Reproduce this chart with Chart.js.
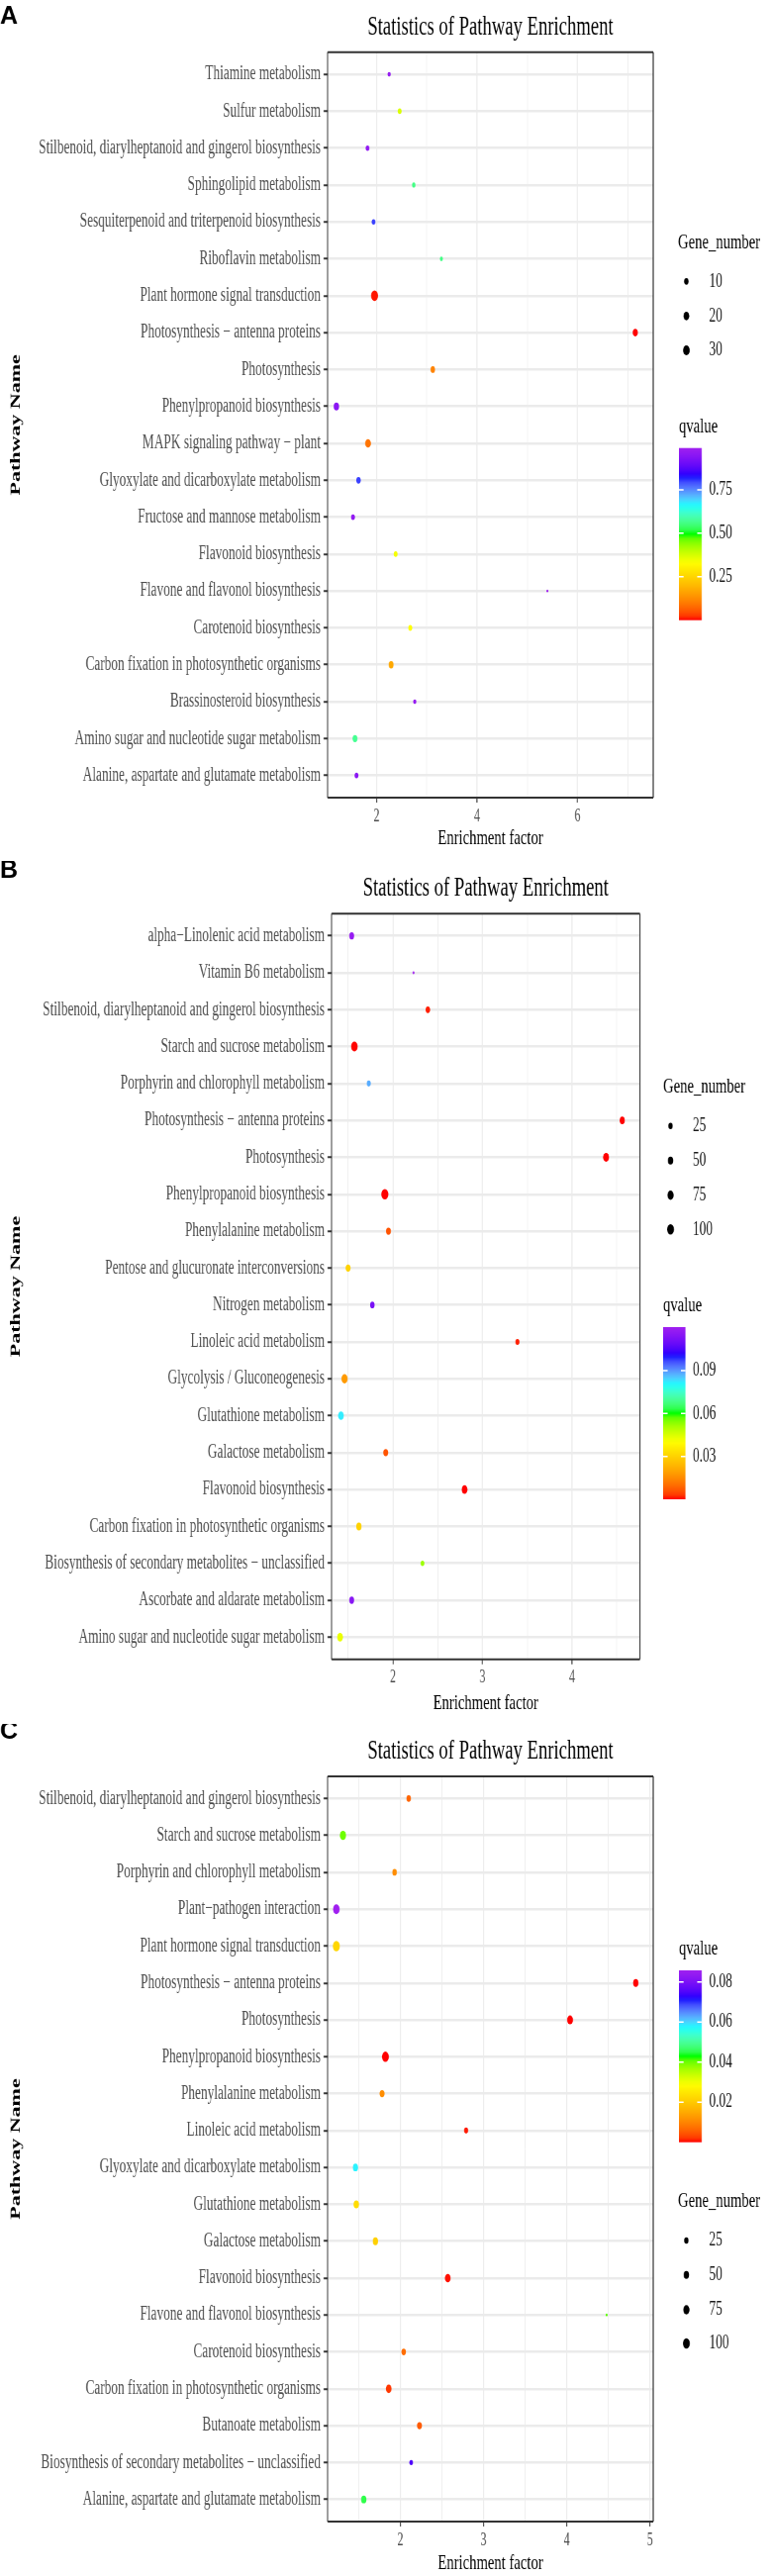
<!DOCTYPE html>
<html>
<head>
<meta charset="utf-8">
<script src="https://cdn.jsdelivr.net/npm/chart.js@4.4.0/dist/chart.umd.min.js"></script>
<style>
body { margin: 0; background: #fff; }
#page { position: relative; width: 780px; height: 2603px; overflow: hidden; background: #fff; }
#page canvas { position: absolute; left: 0; }
</style>
</head>
<body>
<div id="page">
  <canvas id="chartA"></canvas>
  <canvas id="chartB"></canvas>
  <canvas id="chartC"></canvas>
</div>
<script>
// Panel A
var pathwaysA = ["Thiamine metabolism", "Sulfur metabolism", "Stilbenoid, diarylheptanoid and gingerol biosynthesis",
  "Sphingolipid metabolism", "Sesquiterpenoid and triterpenoid biosynthesis", "Riboflavin metabolism",
  "Plant hormone signal transduction", "Photosynthesis \u2212 antenna proteins", "Photosynthesis",
  "Phenylpropanoid biosynthesis", "MAPK signaling pathway \u2212 plant", "Glyoxylate and dicarboxylate metabolism",
  "Fructose and mannose metabolism", "Flavonoid biosynthesis", "Flavone and flavonol biosynthesis",
  "Carotenoid biosynthesis", "Carbon fixation in photosynthetic organisms", "Brassinosteroid biosynthesis",
  "Amino sugar and nucleotide sugar metabolism", "Alanine, aspartate and glutamate metabolism"];
var enrichA = [2.25, 2.46, 1.82, 2.74, 1.94, 3.29, 1.96, 7.15, 3.12, 1.20, 1.83, 1.64, 1.53, 2.38, 5.40, 2.67, 2.29, 2.76, 1.57, 1.60];
var qvalueA = [0.97, 0.37, 0.96, 0.56, 0.80, 0.56, 0.005, 0.0001, 0.11, 0.95, 0.09, 0.80, 0.96, 0.34, 0.99, 0.33, 0.17, 0.97, 0.57, 0.95];
var genesA = [4, 7, 6, 5, 6, 4, 34, 14, 10, 16, 20, 10, 7, 7, 2, 7, 13, 4, 13, 7];
var xGridA = [2, 3, 4, 5, 6, 7];
var xLabelsA = [2, 4, 6];
var sizeBreaksA = [10, 20, 30];
var qBreaksA = [0.25, 0.50, 0.75];

// Panel B
var pathwaysB = ["alpha\u2212Linolenic acid metabolism", "Vitamin B6 metabolism", "Stilbenoid, diarylheptanoid and gingerol biosynthesis",
  "Starch and sucrose metabolism", "Porphyrin and chlorophyll metabolism", "Photosynthesis \u2212 antenna proteins",
  "Photosynthesis", "Phenylpropanoid biosynthesis", "Phenylalanine metabolism", "Pentose and glucuronate interconversions",
  "Nitrogen metabolism", "Linoleic acid metabolism", "Glycolysis / Gluconeogenesis", "Glutathione metabolism",
  "Galactose metabolism", "Flavonoid biosynthesis", "Carbon fixation in photosynthetic organisms",
  "Biosynthesis of secondary metabolites \u2212 unclassified", "Ascorbate and aldarate metabolism",
  "Amino sugar and nucleotide sugar metabolism"];
var enrichB = [1.54, 2.23, 2.39, 1.57, 1.73, 4.56, 4.38, 1.91, 1.95, 1.50, 1.77, 3.39, 1.46, 1.42, 1.92, 2.80, 1.62, 2.33, 1.54, 1.41];
var qvalueB = [0.118, 0.1205, 0.001, 0.0001, 0.088, 0.00001, 0.00001, 0.00001, 0.006, 0.030, 0.112, 0.001, 0.018, 0.082, 0.006, 0.00001, 0.030, 0.052, 0.115, 0.043];
var genesB = [37, 2, 28, 88, 20, 42, 66, 105, 37, 37, 28, 20, 74, 60, 37, 60, 47, 14, 37, 60];
var xGridB = [1.5, 2, 2.5, 3, 3.5, 4, 4.5];
var xLabelsB = [2, 3, 4];
var sizeBreaksB = [25, 50, 75, 100];
var qBreaksB = [0.03, 0.06, 0.09];

// Panel C
var pathwaysC = ["Stilbenoid, diarylheptanoid and gingerol biosynthesis", "Starch and sucrose metabolism",
  "Porphyrin and chlorophyll metabolism", "Plant\u2212pathogen interaction", "Plant hormone signal transduction",
  "Photosynthesis \u2212 antenna proteins", "Photosynthesis", "Phenylpropanoid biosynthesis", "Phenylalanine metabolism",
  "Linoleic acid metabolism", "Glyoxylate and dicarboxylate metabolism", "Glutathione metabolism", "Galactose metabolism",
  "Flavonoid biosynthesis", "Flavone and flavonol biosynthesis", "Carotenoid biosynthesis",
  "Carbon fixation in photosynthetic organisms", "Butanoate metabolism",
  "Biosynthesis of secondary metabolites \u2212 unclassified", "Alanine, aspartate and glutamate metabolism"];
var enrichC = [2.10, 1.31, 1.93, 1.23, 1.23, 4.83, 4.04, 1.82, 1.78, 2.79, 1.46, 1.47, 1.70, 2.57, 4.48, 2.04, 1.86, 2.23, 2.13, 1.56];
var qvalueC = [0.006, 0.040, 0.011, 0.0858, 0.022, 0.00001, 0.00001, 0.00001, 0.011, 0.0005, 0.058, 0.023, 0.021, 0.0003, 0.041, 0.007, 0.002, 0.005, 0.075, 0.045];
var genesC = [28, 74, 28, 88, 105, 45, 65, 100, 37, 20, 47, 47, 47, 60, 2, 28, 60, 37, 14, 47];
var xGridC = [1.5, 2, 2.5, 3, 3.5, 4, 4.5, 5];
var xLabelsC = [2, 3, 4, 5];
var sizeBreaksC = [25, 50, 75, 100];
var qBreaksC = [0.02, 0.04, 0.06, 0.08];

var SX = 1.5; // the source figure is squeezed sideways, so draw wide and shrink with css
var SERIF = '"Liberation Serif", "Times New Roman", serif';
Chart.defaults.font.family = SERIF;

// red -> purple ramp, mixed in Lab like ggplot does
var rampColours = ["#FF0000", "#FFA500", "#FFFF00", "#00FF00", "#00FFFF", "#0000FF", "#A020F0"];

function toLab(hex) {
  var rgb = [1, 3, 5].map(function (k) {
    var c = parseInt(hex.substr(k, 2), 16) / 255;
    return c <= 0.04045 ? c / 12.92 : Math.pow((c + 0.055) / 1.055, 2.4);
  });
  var X = (0.4124 * rgb[0] + 0.3576 * rgb[1] + 0.1805 * rgb[2]) / 0.95047;
  var Y = 0.2126 * rgb[0] + 0.7152 * rgb[1] + 0.0722 * rgb[2];
  var Z = (0.0193 * rgb[0] + 0.1192 * rgb[1] + 0.9505 * rgb[2]) / 1.08883;
  var f = function (t) { return t > 0.008856 ? Math.cbrt(t) : 7.787 * t + 16 / 116; };
  return [116 * f(Y) - 16, 500 * (f(X) - f(Y)), 200 * (f(Y) - f(Z))];
}

function fromLab(lab) {
  var fy = (lab[0] + 16) / 116, fx = fy + lab[1] / 500, fz = fy - lab[2] / 200;
  var inv = function (t) { return t * t * t > 0.008856 ? t * t * t : (t - 16 / 116) / 7.787; };
  var X = 0.95047 * inv(fx), Y = inv(fy), Z = 1.08883 * inv(fz);
  var lin = [3.2406 * X - 1.5372 * Y - 0.4986 * Z, -0.9689 * X + 1.8758 * Y + 0.0415 * Z, 0.0557 * X - 0.2040 * Y + 1.0570 * Z];
  var out = lin.map(function (c) {
    c = c <= 0.0031308 ? 12.92 * c : 1.055 * Math.pow(Math.max(c, 0), 1 / 2.4) - 0.055;
    return Math.round(Math.max(0, Math.min(1, c)) * 255);
  });
  return 'rgb(' + out.join(',') + ')';
}

var rampLab = rampColours.map(toLab);

function rampColour(t) {
  t = Math.max(0, Math.min(1, t));
  var seg = t * (rampLab.length - 1);
  var i = Math.min(Math.floor(seg), rampLab.length - 2);
  var f = seg - i;
  var a = rampLab[i], b = rampLab[i + 1];
  return fromLab([a[0] + (b[0] - a[0]) * f, a[1] + (b[1] - a[1]) * f, a[2] + (b[2] - a[2]) * f]);
}

function sizeScale(genes) {
  var lo = Math.min.apply(null, genes), hi = Math.max.apply(null, genes);
  return function (n) {
    var t = Math.max(0, Math.min(1, (n - lo) / (hi - lo)));
    return (2.8 + 7.8 * Math.sqrt(t)) / 2;
  };
}

function drawPanel(id, top, height, p) {
  var canvas = document.getElementById(id);
  canvas.width = 780 * SX;
  canvas.height = height;
  canvas.style.top = top + 'px';
  canvas.style.width = '780px';
  canvas.style.height = height + 'px';

  var radius = sizeScale(p.genes);
  var qMin = Math.min.apply(null, p.qvalue), qMax = Math.max.apply(null, p.qvalue);
  var colour = function (q) { return rampColour((q - qMin) / (qMax - qMin)); };
  var isLabel = function (ctx) { return ctx.tick && p.xLabels.indexOf(ctx.tick.value) >= 0; };

  var decor = {
    id: 'decor',
    afterDatasetsDraw: function (chart) {
      var c = chart.ctx, a = chart.chartArea;
      c.save();
      c.strokeStyle = '#333';
      c.lineWidth = 2;
      c.beginPath();
      c.moveTo(a.left, a.top); c.lineTo(a.right, a.top);
      c.moveTo(a.left, a.bottom); c.lineTo(a.right, a.bottom);
      c.stroke();
      c.lineWidth = 1.6;
      c.beginPath();
      c.moveTo(a.left, a.top); c.lineTo(a.left, a.bottom);
      c.moveTo(a.right, a.top); c.lineTo(a.right, a.bottom);
      c.stroke();
      c.restore();
    },
    afterDraw: function (chart) {
      var c = chart.ctx, a = chart.chartArea;
      c.save();
      // panel letter
      c.save();
      c.scale(SX, 1);
      c.fillStyle = '#000';
      c.font = 'bold 25px "Liberation Sans", Arial, sans-serif';
      c.textAlign = 'left';
      c.textBaseline = 'alphabetic';
      c.fillText(p.letter, 0, p.letterBase);
      c.restore();

      c.fillStyle = '#000';
      c.font = '28px ' + SERIF;
      c.textAlign = 'center';
      c.textBaseline = 'alphabetic';
      c.fillText('Statistics of Pathway Enrichment', (a.left + a.right) / 2, 34.5);

      // size legend
      var L = p.sizeLegend;
      c.textAlign = 'left';
      c.textBaseline = 'middle';
      c.font = '22px ' + SERIF;
      c.fillText('Gene_number', L.x * SX, L.titleY);
      c.font = '20px ' + SERIF;
      p.sizeBreaks.forEach(function (n, i) {
        c.fillStyle = '#000';
        c.beginPath();
        c.arc(L.dotX * SX, L.ys[i], radius(n), 0, 2 * Math.PI);
        c.fill();
        c.fillStyle = '#1a1a1a';
        c.fillText(String(n), L.labelX * SX, L.ys[i]);
      });

      // colour bar
      var B = p.colourBar;
      c.fillStyle = '#000';
      c.font = '22px ' + SERIF;
      c.fillText('qvalue', B.x0 * SX, B.titleY);
      var grad = c.createLinearGradient(0, B.bottom, 0, B.top);
      for (var k = 0; k <= 40; k++) grad.addColorStop(k / 40, rampColour(k / 40));
      c.fillStyle = grad;
      c.fillRect(B.x0 * SX, B.top, (B.x1 - B.x0) * SX, B.bottom - B.top);
      var w = (B.x1 - B.x0) * SX;
      c.font = '20px ' + SERIF;
      p.qBreaks.forEach(function (q) {
        var y = B.bottom - (q - qMin) / (qMax - qMin) * (B.bottom - B.top);
        c.strokeStyle = '#fff';
        c.lineWidth = 1.5;
        c.beginPath();
        c.moveTo(B.x0 * SX, y); c.lineTo(B.x0 * SX + w / 5, y);
        c.moveTo(B.x1 * SX - w / 5, y); c.lineTo(B.x1 * SX, y);
        c.stroke();
        c.fillStyle = '#1a1a1a';
        c.fillText(q.toFixed(2), B.labelX * SX, y);
      });
      c.restore();
    }
  };

  return new Chart(canvas, {
    type: 'scatter',
    data: {
      datasets: [{
        data: p.enrich.map(function (x, i) { return {x: x, y: i}; }),
        pointRadius: p.genes.map(radius),
        pointHoverRadius: p.genes.map(radius),
        pointBackgroundColor: p.qvalue.map(colour),
        pointBorderWidth: 0
      }]
    },
    options: {
      responsive: false,
      animation: false,
      devicePixelRatio: 1,
      events: [],
      layout: {padding: {top: p.plotTop, right: (780 - p.plotRight) * SX, bottom: 0, left: 0}},
      plugins: {legend: {display: false}, tooltip: {enabled: false}},
      scales: {
        x: {
          type: 'linear',
          min: p.xMin,
          max: p.xMax,
          afterBuildTicks: function (s) { s.ticks = p.xGrid.map(function (v) { return {value: v}; }); },
          afterFit: function (s) { s.height = height - p.plotBottom; },
          border: {display: false},
          grid: {
            color: '#ebebeb',
            lineWidth: function (ctx) { return isLabel(ctx) ? 1.7 : 1; },
            tickLength: 5,
            tickWidth: 1.5,
            tickColor: function (ctx) { return isLabel(ctx) ? '#333' : 'rgba(0,0,0,0)'; }
          },
          ticks: {
            autoSkip: false,
            maxRotation: 0,
            padding: 3,
            color: '#4d4d4d',
            font: {size: 18},
            callback: function (v) { return p.xLabels.indexOf(v) >= 0 ? String(v) : ''; }
          },
          title: {display: true, text: 'Enrichment factor', color: '#000', font: {size: 22}, padding: {top: 0, bottom: p.xTitlePad}}
        },
        y: {
          type: 'linear',
          reverse: true,
          min: -0.6,
          max: p.pathways.length - 1 + 0.6,
          afterBuildTicks: function (s) { s.ticks = p.pathways.map(function (_, i) { return {value: i}; }); },
          afterFit: function (s) { s.width = p.plotLeft * SX; },
          border: {display: false},
          grid: {color: '#ebebeb', lineWidth: 2.5, tickLength: 6, tickWidth: 2, tickColor: '#333'},
          ticks: {
            autoSkip: false,
            padding: 4.5,
            color: '#4d4d4d',
            font: {size: 20},
            callback: function (v) { return p.pathways[v]; }
          },
          title: {display: true, text: 'Pathway Name', color: '#000', font: {size: 22, weight: 'bold'}, padding: {top: 11}}
        }
      }
    },
    plugins: [decor]
  });
}

drawPanel('chartA', 0, 870, {
  letter: 'A', letterBase: 24,
  pathways: pathwaysA, enrich: enrichA, qvalue: qvalueA, genes: genesA,
  xGrid: xGridA, xLabels: xLabelsA, sizeBreaks: sizeBreaksA, qBreaks: qBreaksA,
  xMin: 1.025, xMax: 7.507,
  plotTop: 52.7, plotBottom: 806, plotLeft: 331, plotRight: 660, xTitlePad: 9.8,
  sizeLegend: {x: 685, titleY: 245, dotX: 693.5, labelX: 716.5, ys: [284.3, 319.3, 354]},
  colourBar: {x0: 686, x1: 709, titleY: 431.7, top: 452.7, bottom: 626.7, labelX: 716.5}
});

drawPanel('chartB', 870, 872, {
  letter: 'B', letterBase: 16.7,
  pathways: pathwaysB, enrich: enrichB, qvalue: qvalueB, genes: genesB,
  xGrid: xGridB, xLabels: xLabelsB, sizeBreaks: sizeBreaksB, qBreaks: qBreaksB,
  xMin: 1.315, xMax: 4.757,
  plotTop: 53.3, plotBottom: 806.7, plotLeft: 335, plotRight: 646.5, xTitlePad: 7.1,
  sizeLegend: {x: 670, titleY: 228, dotX: 677.5, labelX: 700, ys: [267.7, 302.7, 337.7, 372.3]},
  colourBar: {x0: 670, x1: 692.5, titleY: 449.3, top: 471, bottom: 645, labelX: 700}
});

drawPanel('chartC', 1742, 861, {
  letter: 'C', letterBase: 15.3,
  pathways: pathwaysC, enrich: enrichC, qvalue: qvalueC, genes: genesC,
  xGrid: xGridC, xLabels: xLabelsC, sizeBreaks: sizeBreaksC, qBreaks: qBreaksC,
  xMin: 1.125, xMax: 5.04,
  plotTop: 53, plotBottom: 806, plotLeft: 331, plotRight: 660, xTitlePad: 0,
  sizeLegend: {x: 685, titleY: 482.7, dotX: 693.5, labelX: 716.5, ys: [522, 556.7, 592, 626]},
  colourBar: {x0: 686, x1: 709, titleY: 227.3, top: 249, bottom: 422.7, labelX: 716.5}
});
</script>
</body>
</html>
